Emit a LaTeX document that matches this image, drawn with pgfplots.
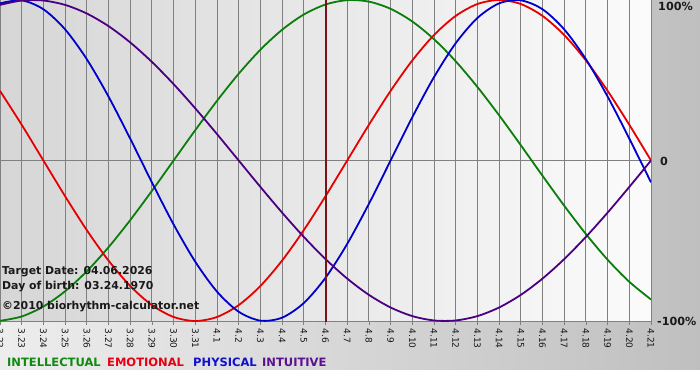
\documentclass[border=0pt]{standalone}
\usepackage{pgfplots}
\pgfplotsset{compat=1.18}
\usepackage{fontspec}
\setmainfont{DejaVu Sans}
\definecolor{cint}{HTML}{0A7D0A}
\definecolor{cemo}{HTML}{E60000}
\definecolor{cphy}{HTML}{0000CC}
\definecolor{cintu}{HTML}{4B0082}
\definecolor{lint}{HTML}{108A10}
\definecolor{lemo}{HTML}{E60012}
\definecolor{lphy}{HTML}{1010D0}
\definecolor{lintu}{HTML}{5A1090}
\definecolor{gridc}{HTML}{808080}
\definecolor{markc}{HTML}{7A1414}
\begin{document}
\begin{tikzpicture}[x=1bp,y=1bp]
\fill[white] (0,0) rectangle (700,380);
\shade[left color=black!7, right color=black!25] (0,11) rectangle (700,380);
\useasboundingbox (0,0) rectangle (700,380);
\begin{axis}[
  at={(0bp,59bp)}, anchor=south west,
  scale only axis, width=651bp, height=321bp,
  xmin=0, xmax=30, ymin=-1, ymax=1,
  axis background/.style={left color=black!16, right color=black!1.5},
  axis line style={draw=none},
  xtick={0,...,30},
  xticklabels={3.22,3.23,3.24,3.25,3.26,3.27,3.28,3.29,3.30,3.31,4.1,4.2,4.3,4.4,4.5,4.6,4.7,4.8,4.9,4.10,4.11,4.12,4.13,4.14,4.15,4.16,4.17,4.18,4.19,4.20,4.21},
  xtick pos=left,
  tick align=outside,
  major tick length=4bp,
  xtick style={draw=gridc, line width=0.8bp},
  ytick={-1,0},
  yticklabels={},
  ytick style={draw=none},
  xmajorgrids, ymajorgrids,
  grid style={draw=gridc, line width=0.9bp},
  xticklabel style={rotate=-90, anchor=west, text=black!90, font=\fontsize{9bp}{10bp}\selectfont},
  clip=true,
]
\addplot[cint, line width=1.8bp, smooth] coordinates {
(0,-0.9989) (1,-0.9718) (2,-0.9096) (3,-0.8146) (4,-0.6901) (5,-0.5406) (6,-0.3717) (7,-0.1893) (8,0) (9,0.1893) (10,0.3717) (11,0.5406) (12,0.6901) (13,0.8146) (14,0.9096) (15,0.9718) (16,0.9989) (17,0.9898) (18,0.9450) (19,0.8660) (20,0.7557) (21,0.6182) (22,0.4582) (23,0.2817) (24,0.0951) (25,-0.0951) (26,-0.2817) (27,-0.4582) (28,-0.6182) (29,-0.7557) (30,-0.8660)};
\addplot[cemo, line width=1.8bp, smooth] coordinates {
(0,0.4339) (1,0.2225) (2,0) (3,-0.2225) (4,-0.4339) (5,-0.6235) (6,-0.7818) (7,-0.9010) (8,-0.9749) (9,-1) (10,-0.9749) (11,-0.9010) (12,-0.7818) (13,-0.6235) (14,-0.4339) (15,-0.2225) (16,0) (17,0.2225) (18,0.4339) (19,0.6235) (20,0.7818) (21,0.9010) (22,0.9749) (23,1) (24,0.9749) (25,0.9010) (26,0.7818) (27,0.6235) (28,0.4339) (29,0.2225) (30,0)};
\addplot[cphy, line width=1.8bp, smooth] coordinates {
(0,0.9791) (1,0.9977) (2,0.9423) (3,0.8170) (4,0.6311) (5,0.3984) (6,0.1362) (7,-0.1362) (8,-0.3984) (9,-0.6311) (10,-0.8170) (11,-0.9423) (12,-0.9977) (13,-0.9791) (14,-0.8879) (15,-0.7308) (16,-0.5196) (17,-0.2698) (18,0) (19,0.2698) (20,0.5196) (21,0.7308) (22,0.8879) (23,0.9791) (24,0.9977) (25,0.9423) (26,0.8170) (27,0.6311) (28,0.3984) (29,0.1362) (30,-0.1362)};
\addplot[cintu, line width=1.8bp, smooth] coordinates {
(0,0.9694) (1,0.9966) (2,0.9966) (3,0.9694) (4,0.9158) (5,0.8372) (6,0.7357) (7,0.6142) (8,0.4759) (9,0.3247) (10,0.1646) (11,0) (12,-0.1646) (13,-0.3247) (14,-0.4759) (15,-0.6142) (16,-0.7357) (17,-0.8372) (18,-0.9158) (19,-0.9694) (20,-0.9966) (21,-0.9966) (22,-0.9694) (23,-0.9158) (24,-0.8372) (25,-0.7357) (26,-0.6142) (27,-0.4759) (28,-0.3247) (29,-0.1646) (30,0)};
\addplot[markc, line width=2bp] coordinates {(15,-1.1) (15,1.1)};
\end{axis}
\begin{scope}[every node/.style={inner sep=0pt, text=black!90}]
\node[anchor=west, font=\fontsize{10.9bp}{12bp}\selectfont\bfseries] at (2,108) {Target Date: 04.06.2026};
\node[anchor=west, font=\fontsize{10.9bp}{12bp}\selectfont\bfseries] at (2,93) {Day of birth: 03.24.1970};
\node[anchor=west, font=\fontsize{10.9bp}{12bp}\selectfont\bfseries] at (2,73) {©2010 biorhythm-calculator.net};
\node[anchor=west, font=\fontsize{11.2bp}{12bp}\selectfont\bfseries] at (658,374) {100\%};
\node[anchor=west, font=\fontsize{11.2bp}{12bp}\selectfont\bfseries] at (660,219) {0};
\node[anchor=west, font=\fontsize{11.2bp}{12bp}\selectfont\bfseries] at (657,59) {-100\%};
\end{scope}
\begin{scope}[every node/.style={inner sep=0pt, anchor=base west, font=\fontsize{11.5bp}{12bp}\selectfont\bfseries}]
\node[text=lint] at (7,13.5) {INTELLECTUAL};
\node[text=lemo] at (107,13.5) {EMOTIONAL};
\node[text=lphy] at (193,13.5) {PHYSICAL};
\node[text=lintu] at (262,13.5) {INTUITIVE};
\end{scope}
\end{tikzpicture}
\end{document}
